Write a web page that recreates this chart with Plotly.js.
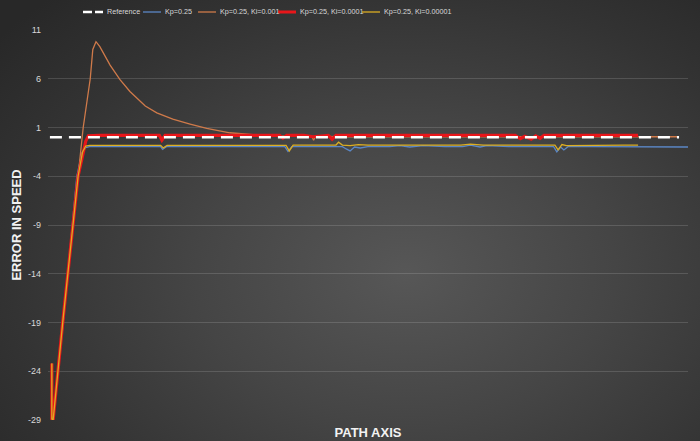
<!DOCTYPE html>
<html>
<head>
<meta charset="utf-8">
<script src="https://cdn.plot.ly/plotly-3.0.1.min.js"></script>
<style>
html, body { margin: 0; padding: 0; }
body {
  width: 700px; height: 441px; overflow: hidden;
  background: radial-gradient(ellipse 75% 85% at 58% 62%, #575757 0%, #454545 40%, #333333 75%, #282828 100%);
}
#chart { width: 700px; height: 441px; }
</style>
</head>
<body>
<div id="chart"></div>
<script>
// Series names
const seriesNames = ["Reference", "Kp=0.25", "Kp=0.25, Ki=0.001", "Kp=0.25, Ki=0.0001", "Kp=0.25, Ki=0.00001"];
const seriesColors = ["#ffffff", "#5b87c6", "#cf7a4a", "#e8161a", "#dcae22"];

// Y axis tick labels
const yTickVals = [11, 6, 1, -4, -9, -14, -19, -24, -29];

// Reference (set point)
const xRef = [0.3, 98.6];
const yRef = [0, 0];

// Kp=0.25
const xBlue = [0.6, 0.6, 0.8, 2.3, 4.5, 5.3, 5.9, 6.5, 10, 15, 17.6, 17.9, 18.5, 25, 32, 37.0, 37.5, 38.1, 42, 46.0, 46.6, 47.2, 47.9, 48.8, 50, 53.4, 55, 56.5, 58.6, 62, 64.8, 66, 67.5, 68.6, 72, 79.0, 79.5, 80.1, 80.6, 81.3, 85, 90, 95, 100];
const yBlue = [-23.5, -28.8, -29, -19.5, -4.0, -1.6, -1.05, -0.97, -0.97, -0.97, -0.97, -1.25, -0.97, -0.97, -0.97, -0.97, -1.45, -0.97, -0.97, -0.97, -1.2, -1.4, -1.0, -1.1, -0.97, -0.97, -0.85, -1.0, -0.85, -0.97, -0.97, -0.8, -1.0, -0.85, -0.97, -0.97, -1.5, -1.0, -1.3, -0.95, -0.97, -0.97, -1.0, -1.0];

// Kp=0.25, Ki=0.001
const xOrange = [0.6, 0.6, 0.8, 2.3, 4.7, 5.5, 6.6, 7.0, 7.5, 8.1, 9.7, 11.25, 12.8, 15.2, 17.0, 19.5, 22.2, 24.8, 28.4, 33.1, 38, 41.2, 41.5, 41.8, 45, 55, 65, 75, 85, 92, 98.3];
const yOrange = [-23.2, -28.9, -29, -19, -4.0, 1.0, 6.0, 9.0, 9.8, 9.3, 7.4, 5.9, 4.7, 3.2, 2.5, 1.85, 1.35, 0.9, 0.46, 0.2, 0.1, 0.1, -0.3, 0.1, 0.05, 0.05, 0.05, 0.05, 0.05, 0.05, 0.05];

// Kp=0.25, Ki=0.0001
const xRed = [0.6, 0.6, 0.8, 2.3, 4.7, 5.5, 5.9, 6.3, 8, 12, 16, 17.4, 17.8, 18.3, 22, 28, 33, 36.2, 36.7, 37.3, 40, 41.4, 43.8, 44.4, 45, 50, 55, 60, 65, 70, 73, 73.8, 74.5, 75.5, 76.2, 76.9, 77.5, 82, 87, 92.2];
const yRed = [-23.2, -28.9, -29.0, -19.0, -4.0, -1.5, -0.4, 0.15, 0.2, 0.2, 0.2, 0.2, -0.3, 0.2, 0.2, 0.2, 0.2, 0.2, -0.1, 0.2, 0.2, 0.05, 0.2, -0.2, 0.2, 0.2, 0.2, 0.25, 0.2, 0.2, 0.2, -0.15, 0.1, -0.2, 0.15, -0.1, 0.2, 0.2, 0.2, 0.2];

// Kp=0.25, Ki=0.00001
const xYellow = [0.6, 0.6, 0.8, 2.3, 4.7, 5.4, 5.9, 6.5, 10, 15, 17.6, 18.0, 18.6, 25, 32, 37.2, 37.7, 38.3, 42, 45.0, 45.4, 46.0, 47.2, 48.5, 50, 55, 60, 64.5, 66, 68, 72, 79.2, 79.7, 80.3, 81, 85, 90, 92.2];
const yYellow = [-23.2, -28.9, -29, -19, -4.0, -1.5, -0.9, -0.83, -0.83, -0.83, -0.83, -1.1, -0.83, -0.83, -0.8, -0.83, -1.4, -0.8, -0.8, -0.8, -0.5, -0.8, -0.85, -0.75, -0.8, -0.8, -0.78, -0.8, -0.7, -0.8, -0.8, -0.8, -1.3, -0.75, -0.85, -0.8, -0.8, -0.8];

const traces = [
  { x: xBlue, y: yBlue, name: seriesNames[1], mode: "lines",
    line: { color: seriesColors[1], width: 1.3 } },
  { x: xOrange, y: yOrange, name: seriesNames[2], mode: "lines",
    line: { color: seriesColors[2], width: 1.3 } },
  { x: xRed, y: yRed, name: seriesNames[3], mode: "lines",
    line: { color: seriesColors[3], width: 3.2 } },
  { x: xYellow, y: yYellow, name: seriesNames[4], mode: "lines",
    line: { color: seriesColors[4], width: 1.3 } },
  { x: xRef, y: yRef, name: seriesNames[0], mode: "lines",
    line: { color: seriesColors[0], width: 2.5, dash: "12px,7px" } }
];

// Compact legend (drawn in paper space above the plot)
const M = { l: 48, r: 12, t: 30, b: 21 };
const PW = 700 - M.l - M.r, PH = 441 - M.t - M.b;
const px2x = p => (p - M.l) / PW;
const py2y = p => (441 - M.b - p) / PH;
const legendY = 12;
const legendItems = [
  { i: 0, s0: 83, s1: 103, w: 2.5, dash: "9px,3px" },
  { i: 1, s0: 143, s1: 161, w: 1.3, dash: "solid" },
  { i: 2, s0: 198, s1: 216, w: 1.3, dash: "solid" },
  { i: 3, s0: 278, s1: 296, w: 3, dash: "solid" },
  { i: 4, s0: 362, s1: 380, w: 1.3, dash: "solid" }
];
const shapes = legendItems.map(it => ({
  type: "line", xref: "paper", yref: "paper",
  x0: px2x(it.s0), x1: px2x(it.s1), y0: py2y(legendY), y1: py2y(legendY),
  line: { color: seriesColors[it.i], width: it.w, dash: it.dash }
}));
const annotations = legendItems.map(it => ({
  xref: "paper", yref: "paper", x: px2x(it.s1 + 1.5), y: py2y(legendY),
  xanchor: "left", yanchor: "middle", showarrow: false,
  text: seriesNames[it.i],
  font: { family: "Liberation Sans, Arial, sans-serif", size: 7.2, color: "#d9d9d9" }
}));

const layout = {
  width: 700, height: 441,
  margin: { l: M.l, r: M.r, t: M.t, b: M.b, autoexpand: false },
  paper_bgcolor: "rgba(0,0,0,0)",
  plot_bgcolor: "rgba(0,0,0,0)",
  font: { family: "Liberation Sans, Arial, sans-serif", color: "#d9d9d9" },
  showlegend: false,
  shapes: shapes,
  annotations: annotations,
  xaxis: {
    range: [0, 100], showgrid: false, zeroline: false, showline: false,
    showticklabels: false, ticks: "", fixedrange: true, automargin: false,
    title: { text: "PATH AXIS", standoff: 7,
      font: { family: "Liberation Sans, Arial, sans-serif", size: 13, color: "#f2f2f2", weight: "bold" } }
  },
  yaxis: {
    range: [-29, 11], tickmode: "array", tickvals: yTickVals,
    ticktext: yTickVals.map(String), automargin: false,
    showgrid: true, gridcolor: "rgba(255,255,255,0.14)", gridwidth: 1,
    zeroline: false, showline: false, ticks: "", ticklabelstandoff: 6,
    tickfont: { size: 9, color: "#d9d9d9" }, fixedrange: true,
    title: { text: "ERROR IN SPEED", standoff: 3,
      font: { family: "Liberation Sans, Arial, sans-serif", size: 13, color: "#f2f2f2", weight: "bold" } }
  }
};

Plotly.newPlot("chart", traces, layout, { displayModeBar: false, staticPlot: true });
</script>
</body>
</html>
